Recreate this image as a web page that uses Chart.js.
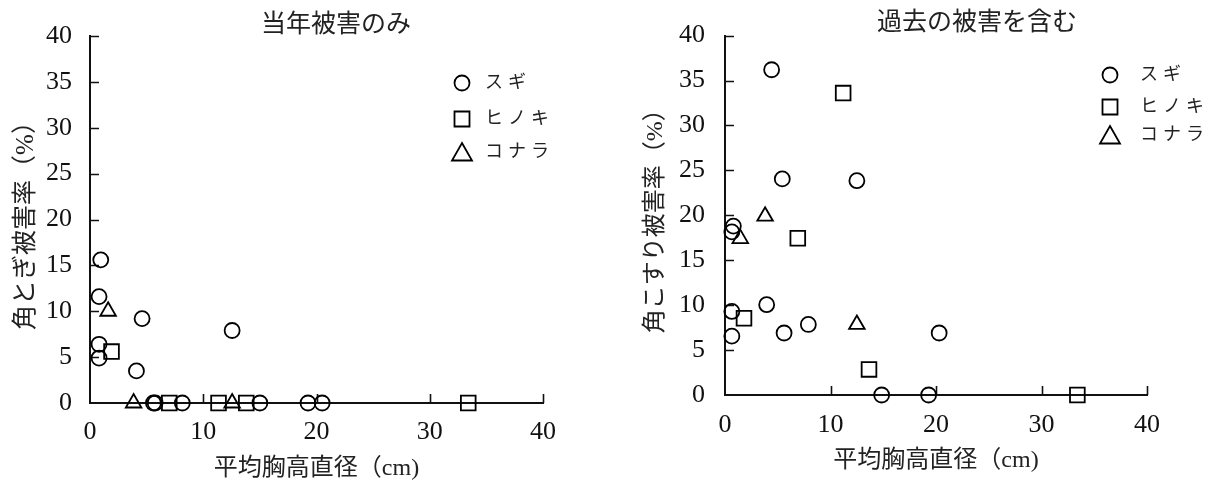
<!DOCTYPE html>
<html lang="ja">
<head>
<meta charset="utf-8">
<title>角とぎ・角こすり被害率と平均胸高直径</title>
<script src="https://cdn.jsdelivr.net/npm/chart.js@4.4.1/dist/chart.umd.min.js"></script>
<style>
    html, body { margin: 0; padding: 0; background: #fff; }
    #wrap { position: relative; width: 1219px; height: 487px; overflow: hidden; }
    #wrap canvas { position: absolute; top: 0; }
    #chart_now { left: 0; }
    #chart_past { left: 600px; }
</style>
</head>
<body>
<div id="wrap">
    <canvas id="chart_now" width="600" height="487"></canvas>
    <canvas id="chart_past" width="619" height="487"></canvas>
</div>
<script>
/* ============================================================
   Scatter panels – 平均胸高直径 vs 被害率
   ============================================================ */

// series / ticks
var speciesNames = ['スギ', 'ヒノキ', 'コナラ'];
var xTickValues = [0, 10, 20, 30, 40];
var yTickValues = [0, 5, 10, 15, 20, 25, 30, 35, 40];

// 当年被害のみ (角とぎ被害率)
var nowSugiX = [0.95, 0.8, 0.8, 0.8, 4.6, 4.1, 12.55, 5.6, 5.75, 8.15, 15.0, 19.25, 20.5];
var nowSugiY = [15.6, 11.6, 6.4, 4.9, 9.2, 3.5, 7.9, 0, 0, 0, 0, 0, 0];
var nowHinokiX = [1.9, 7.0, 11.35, 13.8, 33.4];
var nowHinokiY = [5.6, 0, 0, 0, 0];
var nowKonaraX = [1.6, 3.85, 12.55];
var nowKonaraY = [10.0, 0, 0];

// 過去の被害を含む (角こすり被害率)
var pastSugiX = [4.42, 5.43, 12.5, 0.79, 0.65, 0.65, 0.65, 3.95, 5.6, 7.9, 20.3, 14.85, 19.3];
var pastSugiY = [36.2, 24.05, 23.85, 18.8, 18.15, 9.3, 6.55, 10.05, 6.9, 7.85, 6.9, 0, 0];
var pastHinokiX = [11.2, 6.9, 1.8, 13.65, 33.4];
var pastHinokiY = [33.6, 17.45, 8.55, 2.85, 0];
var pastKonaraX = [3.8, 1.45, 12.5];
var pastKonaraY = [19.9, 17.4, 7.85];

(function () {
    var SERIF = '"Liberation Serif", "Noto Sans CJK JP", serif';
    var INK = '#111';

    var marks = [
        { style: 'circle', radius: 7.5 },
        { style: 'rect', radius: 10.4 },
        { style: 'triangle', radius: 9 }
    ];

    function pairs(xs, ys) {
        return xs.map(function (x, i) { return { x: x, y: ys[i] }; });
    }

    function dataset(i, xs, ys) {
        return {
            label: speciesNames[i],
            data: pairs(xs, ys),
            pointStyle: marks[i].style,
            pointRadius: marks[i].radius,
            pointHoverRadius: marks[i].radius,
            pointBorderColor: '#000',
            pointBackgroundColor: 'rgba(0,0,0,0)',
            pointBorderWidth: 1.8,
            showLine: false,
            clip: false
        };
    }

    /* ── legend marker (own drawing, mirrors point styles) ── */
    function drawMark(ctx, style, cx, cy) {
        ctx.save();
        ctx.letterSpacing = '0px';
        ctx.strokeStyle = '#000';
        ctx.lineWidth = 1.8;
        ctx.beginPath();
        if (style === 'circle') {
            ctx.arc(cx, cy, 7.5, 0, Math.PI * 2);
        } else if (style === 'rect') {
            ctx.rect(cx - 7.5, cy - 7.5, 15, 15);
        } else {
            ctx.moveTo(cx, cy - 9);
            ctx.lineTo(cx + 10, cy + 8.5);
            ctx.lineTo(cx - 10, cy + 8.5);
            ctx.closePath();
        }
        ctx.stroke();
        ctx.restore();
    }

    /* ── inward tick marks ── */
    var innerTicks = {
        id: 'innerTicks',
        beforeDatasetsDraw: function (chart) {
            var x = chart.scales.x, y = chart.scales.y, ctx = chart.ctx, len = 9;
            ctx.save();
            ctx.strokeStyle = INK;
            ctx.lineWidth = 1.6;
            ctx.beginPath();
            x.ticks.forEach(function (t) {
                if (t.value === x.min) return;
                var px = Math.round(x.getPixelForValue(t.value)) + 0.5;
                ctx.moveTo(px, y.bottom);
                ctx.lineTo(px, y.bottom - len);
            });
            y.ticks.forEach(function (t) {
                if (t.value === y.min) return;
                var py = Math.round(y.getPixelForValue(t.value)) + 0.5;
                ctx.moveTo(x.left, py);
                ctx.lineTo(x.left + len, py);
            });
            ctx.stroke();
            ctx.restore();
        }
    };

    /* ── panel title + legend ── */
    var panelText = {
        id: 'panelText',
        afterDraw: function (chart, args, opts) {
            var ctx = chart.ctx;
            ctx.save();
            ctx.fillStyle = '#222';
            ctx.font = '25px ' + SERIF;
            ctx.textAlign = 'center';
            ctx.textBaseline = 'middle';
            ctx.fillText(opts.title, opts.titleX, opts.titleY);

            ctx.font = '18px ' + SERIF;
            ctx.textAlign = 'left';
            chart.data.datasets.forEach(function (ds, i) {
                var ly = opts.legendY[i];
                drawMark(ctx, ds.pointStyle, opts.legendX, ly);
                ctx.letterSpacing = '5px';
                ctx.fillText(ds.label, opts.legendTextX, ly);
            });
            ctx.restore();
        }
    };

    function buildPanel(id, cfg) {
        return new Chart(document.getElementById(id), {
            type: 'scatter',
            data: { datasets: cfg.datasets },
            plugins: [innerTicks, panelText],
            options: {
                responsive: false,
                animation: false,
                devicePixelRatio: 1,
                events: [],
                layout: { padding: cfg.padding },
                plugins: {
                    legend: { display: false },
                    tooltip: { enabled: false },
                    panelText: cfg.text
                },
                scales: {
                    x: {
                        type: 'linear', min: 0, max: 40,
                        afterBuildTicks: function (s) { s.ticks = xTickValues.map(function (v) { return { value: v }; }); },
                        afterFit: function (s) { s.height = cfg.xHeight; },
                        grid: { display: false, drawTicks: false },
                        border: { color: INK, width: 2 },
                        ticks: { color: INK, font: { family: SERIF, size: 26 }, padding: cfg.xTickPad, maxRotation: 0, autoSkip: false },
                        title: { display: true, text: '平均胸高直径（cm)', color: '#222', font: { family: SERIF, size: 24 }, padding: { top: 0, bottom: cfg.xTitlePad } }
                    },
                    y: {
                        type: 'linear', min: 0, max: 40,
                        afterBuildTicks: function (s) { s.ticks = yTickValues.map(function (v) { return { value: v }; }); },
                        afterFit: function (s) { s.width = cfg.yWidth; },
                        grid: { display: false, drawTicks: false },
                        border: { color: INK, width: 2 },
                        ticks: { color: INK, font: { family: SERIF, size: 26 }, padding: cfg.yTickPad, autoSkip: false },
                        title: { display: true, text: cfg.yTitle, color: '#222', font: { family: SERIF, size: cfg.yTitleSize }, padding: { top: cfg.yTitlePad, bottom: 0 } }
                    }
                }
            }
        });
    }

    buildPanel('chart_now', {
        datasets: [
            dataset(0, nowSugiX, nowSugiY),
            dataset(1, nowHinokiX, nowHinokiY),
            dataset(2, nowKonaraX, nowKonaraY)
        ],
        padding: { left: 0, top: 36, right: 57, bottom: 0 },
        yWidth: 90, xHeight: 84,
        xTickPad: 14, yTickPad: 18,
        xTitlePad: 4, yTitlePad: 11, yTitleSize: 25,
        yTitle: '角とぎ被害率（%）',
        text: { title: '当年被害のみ', titleX: 336, titleY: 25, legendX: 462, legendTextX: 485, legendY: [83, 119, 152] }
    });

    buildPanel('chart_past', {
        datasets: [
            dataset(0, pastSugiX, pastSugiY),
            dataset(1, pastHinokiX, pastHinokiY),
            dataset(2, pastKonaraX, pastKonaraY)
        ],
        padding: { left: 0, top: 25, right: 72, bottom: 0 },
        yWidth: 125, xHeight: 92,
        xTickPad: 15, yTickPad: 20,
        xTitlePad: 12, yTitlePad: 41.6, yTitleSize: 24,
        yTitle: '角こすり被害率（%）',
        text: { title: '過去の被害を含む', titleX: 377, titleY: 23, legendX: 510, legendTextX: 540, legendY: [75, 107, 135] }
    });
})();
</script>
</body>
</html>
